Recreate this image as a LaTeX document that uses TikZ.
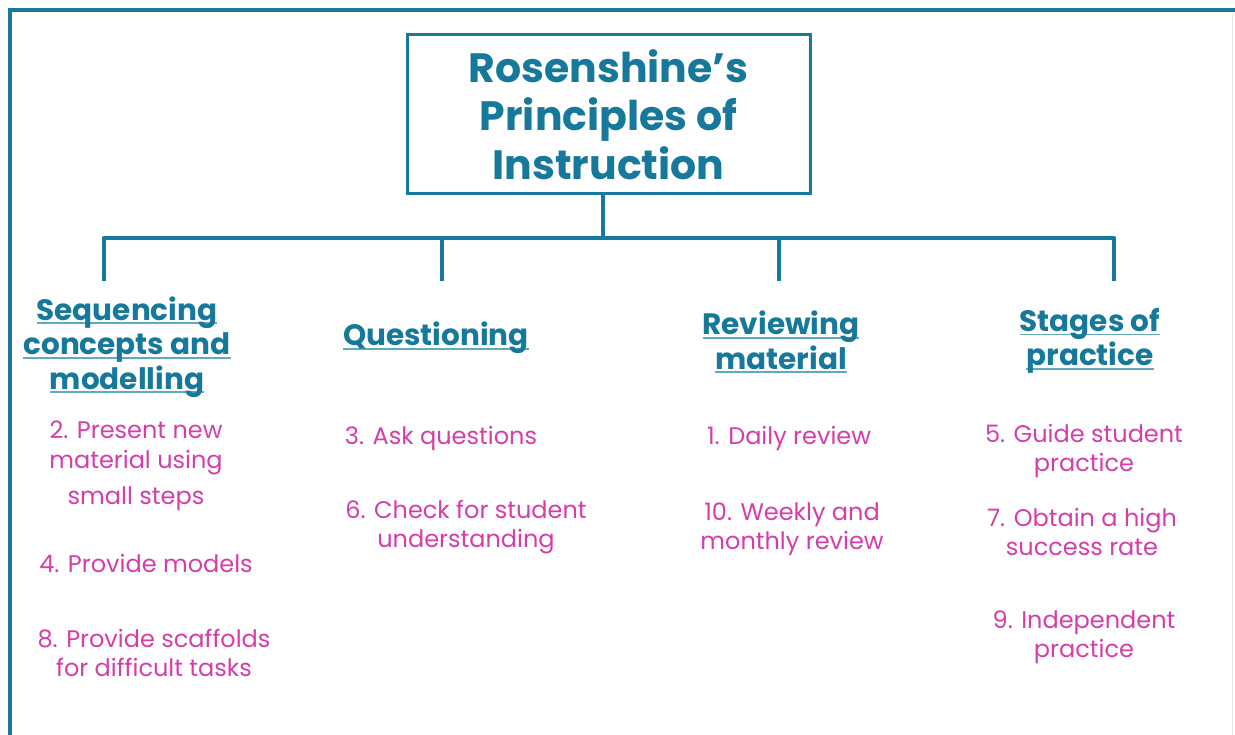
\documentclass[tikz,border=0pt]{standalone}
\usepackage{fontspec}
\setmainfont{Poppins}
\definecolor{teal1}{HTML}{16789A}
\definecolor{ulc}{HTML}{5FA9C3}
\definecolor{mag}{HTML}{D63DA9}
\newlength\ulwd
\newcommand\myul[1]{\settowidth\ulwd{#1}\rlap{\textcolor{ulc}{\rule[-4pt]{\ulwd}{1.8pt}}}#1}
\tikzset{
  conn/.style={draw=teal1, line width=4pt},
  titlebox/.style={draw=teal1, line width=3pt, minimum width=403pt, minimum height=159pt, inner sep=0pt,
    align=center, text=teal1, font=\fontsize{41}{48.5}\selectfont\bfseries},
  head/.style={align=center, text=teal1, inner sep=0pt, font=\fontsize{29.5}{34.5}\selectfont\bfseries},
  item/.style={align=center, text=mag, inner sep=0pt, font=\fontsize{24}{29.5}\selectfont},
}
\begin{document}
\begin{tikzpicture}[x=1pt,y=-1pt]
\useasboundingbox (0,0) rectangle (1235,735);
\fill[white] (0,0) rectangle (1235,735);
\draw[draw=gray!20, line width=1pt] (1232,14) -- (1232,735);
\coordinate (f1) at (10,735);
\coordinate (f2) at (10,10);
\coordinate (f3) at (1235,10);
\draw[conn] (f1) -- (f2) -- (f3);

\node[titlebox] (title) at (608.5,114.5) {\raisebox{0pt}[0pt][0pt]{}Rosenshine’s\\Principles of\\Instruction};

\coordinate (t0) at (603,194);
\coordinate (c1) at (104,238);
\coordinate (c2) at (442,238);
\coordinate (c3) at (779,238);
\coordinate (c4) at (1114,238);
\coordinate (cm) at (603,238);
\coordinate (d1) at (104,281);
\coordinate (d2) at (442,281);
\coordinate (d3) at (779,281);
\coordinate (d4) at (1114,281);
\draw[conn] (t0) -- (cm);
\draw[conn, line join=round] (d1) -- (c1) -- (c4) -- (d4);
\draw[conn] (c2) -- (d2);
\draw[conn] (c3) -- (d3);

% column 1
\node[head] (h1) at (127,347) {\myul{Sequencing}\\\myul{concepts and}\\\myul{modelling}};
\node[item] (p2) at (136,466) {2. Present new\\material using\\[7pt]small steps};
\node[item] (p4) at (146,563) {4. Provide models};
\node[item] (p8) at (154,653) {8. Provide scaffolds\\for difficult tasks};

% column 2
\node[head] (h2) at (436,338) {\myul{Questioning}};
\node[item] (p3) at (441,438) {3. Ask questions};
\node[item] (p6) at (466,527) {6. Check for student\\understanding};

% column 3
\node[head] (h3) at (781,342) {\myul{Reviewing}\\\myul{material}};
\node[item] (p1) at (789,438) {1. Daily review};
\node[item] (p10) at (792,529) {10. Weekly and\\monthly review};

% column 4
\node[head] (h4) at (1090,341) {\myul{Stages of}\\\myul{practice}};
\node[item] (p5) at (1084,451) {5. Guide student\\practice};
\node[item] (p7) at (1082,532) {7. Obtain a high\\success rate};
\node[item] (p9) at (1084,637) {9. Independent\\practice};
\end{tikzpicture}
\end{document}
